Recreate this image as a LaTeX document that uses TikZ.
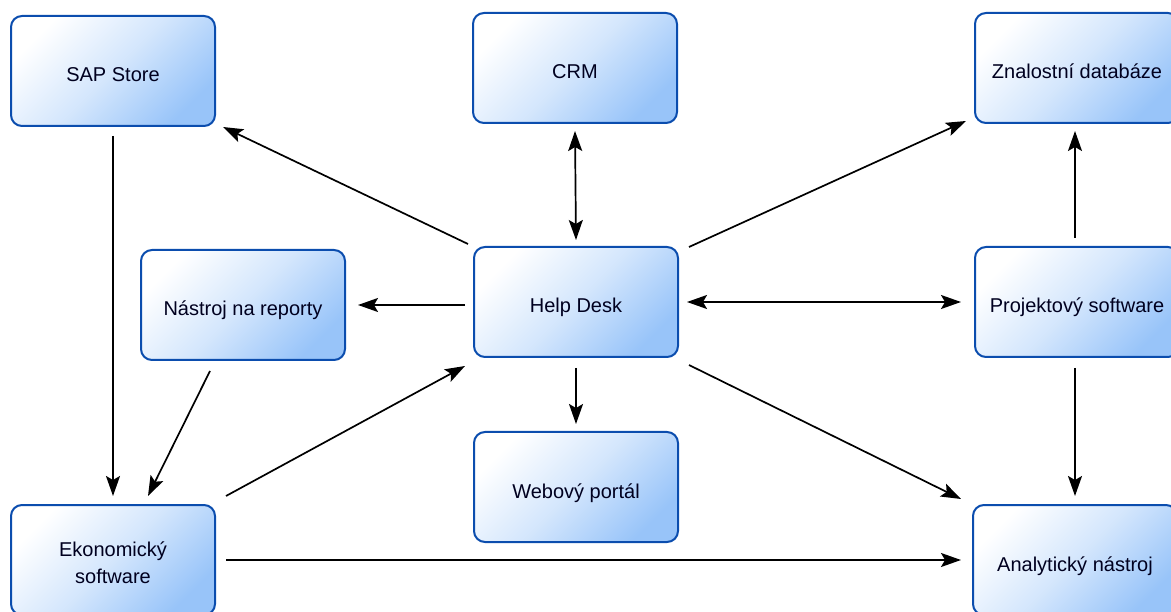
\documentclass[tikz,border=0pt]{standalone}
\usepackage{fontspec}
\setmainfont{Liberation Sans}
\usetikzlibrary{arrows.meta}
\definecolor{boxblue}{HTML}{98C4F9}
\definecolor{boxedge}{HTML}{0B4DAE}
\tikzset{
  tip/.tip={Stealth[length=20pt,width=14pt,inset=4pt]},
  box/.style={draw=boxedge, line width=2pt, rounded corners=11pt,
    minimum width=204pt, minimum height=110pt, inner sep=0pt,
    top color=white, bottom color=boxblue, middle color=boxblue!42,
    shading angle=45, align=center, text height=22pt, text depth=0pt,
    font=\fontsize{20pt}{27pt}\selectfont, text=black!88!blue},
  conn/.style={line width=1.7pt, -tip},
  both/.style={line width=1.7pt, tip-tip}
}
\begin{document}
\begin{tikzpicture}[x=1pt,y=-1pt]
\useasboundingbox (0,0) rectangle (1171,612);
\node[box] (sap) at (113,71) {SAP Store};
\node[box] (crm) at (575,68) {CRM};
\node[box] (zna) at (1077,68) {Znalostní databáze};
\node[box] (nas) at (243,305) {Nástroj na reporty};
\node[box] (help) at (576,302) {Help Desk};
\node[box] (proj) at (1077,302) {Projektový software};
\node[box] (web) at (576,487) {Webový portál};
\node[box, text height=46pt] (eko) at (113,560) {Ekonomický\\software};
\node[box] (ana) at (1075,560) {Analytický nástroj};

\path (sap.south) ++(0,9) coordinate (sapS);
\path (eko.north) ++(0,-8) coordinate (ekoN);
\draw[conn] (sapS) -- (ekoN);
\draw[conn] ([shift={(-108,-2)}]help.north) -- ([shift={(7,0)}]sap.south east);
\draw[both] ([shift={(0,7)}]crm.south) -- ([shift={(0,-6)}]help.north);
\draw[conn] ([shift={(10,1)}]help.north east) -- ([shift={(-8,-3)}]zna.south west);
\draw[conn] ([xshift=-8pt]help.west |- nas.east) -- ([xshift=12pt]nas.east);
\draw[both] ([xshift=8pt]help.east) -- ([xshift=-13pt]proj.west);
\draw[conn] ([shift={(-2,-8)}]proj.north) -- ([shift={(-2,7)}]zna.south);
\draw[conn] ([shift={(-33,10)}]nas.south) -- ([shift={(35,-8)}]eko.north);
\draw[conn] ([shift={(10,-8)}]eko.north east) -- ([shift={(-8,8)}]help.south west);
\draw[conn] ([shift={(0,10)}]help.south) -- ([shift={(0,-7)}]web.north);
\draw[conn] ([shift={(10,7)}]help.south east) -- ([shift={(-11,-5)}]ana.north west);
\draw[conn] ([shift={(0,10)}]proj.south -| ana.north) -- ([shift={(0,-8)}]ana.north);
\draw[conn] ([xshift=10pt]eko.east) -- ([xshift=-11pt]ana.west);
\end{tikzpicture}
\end{document}
